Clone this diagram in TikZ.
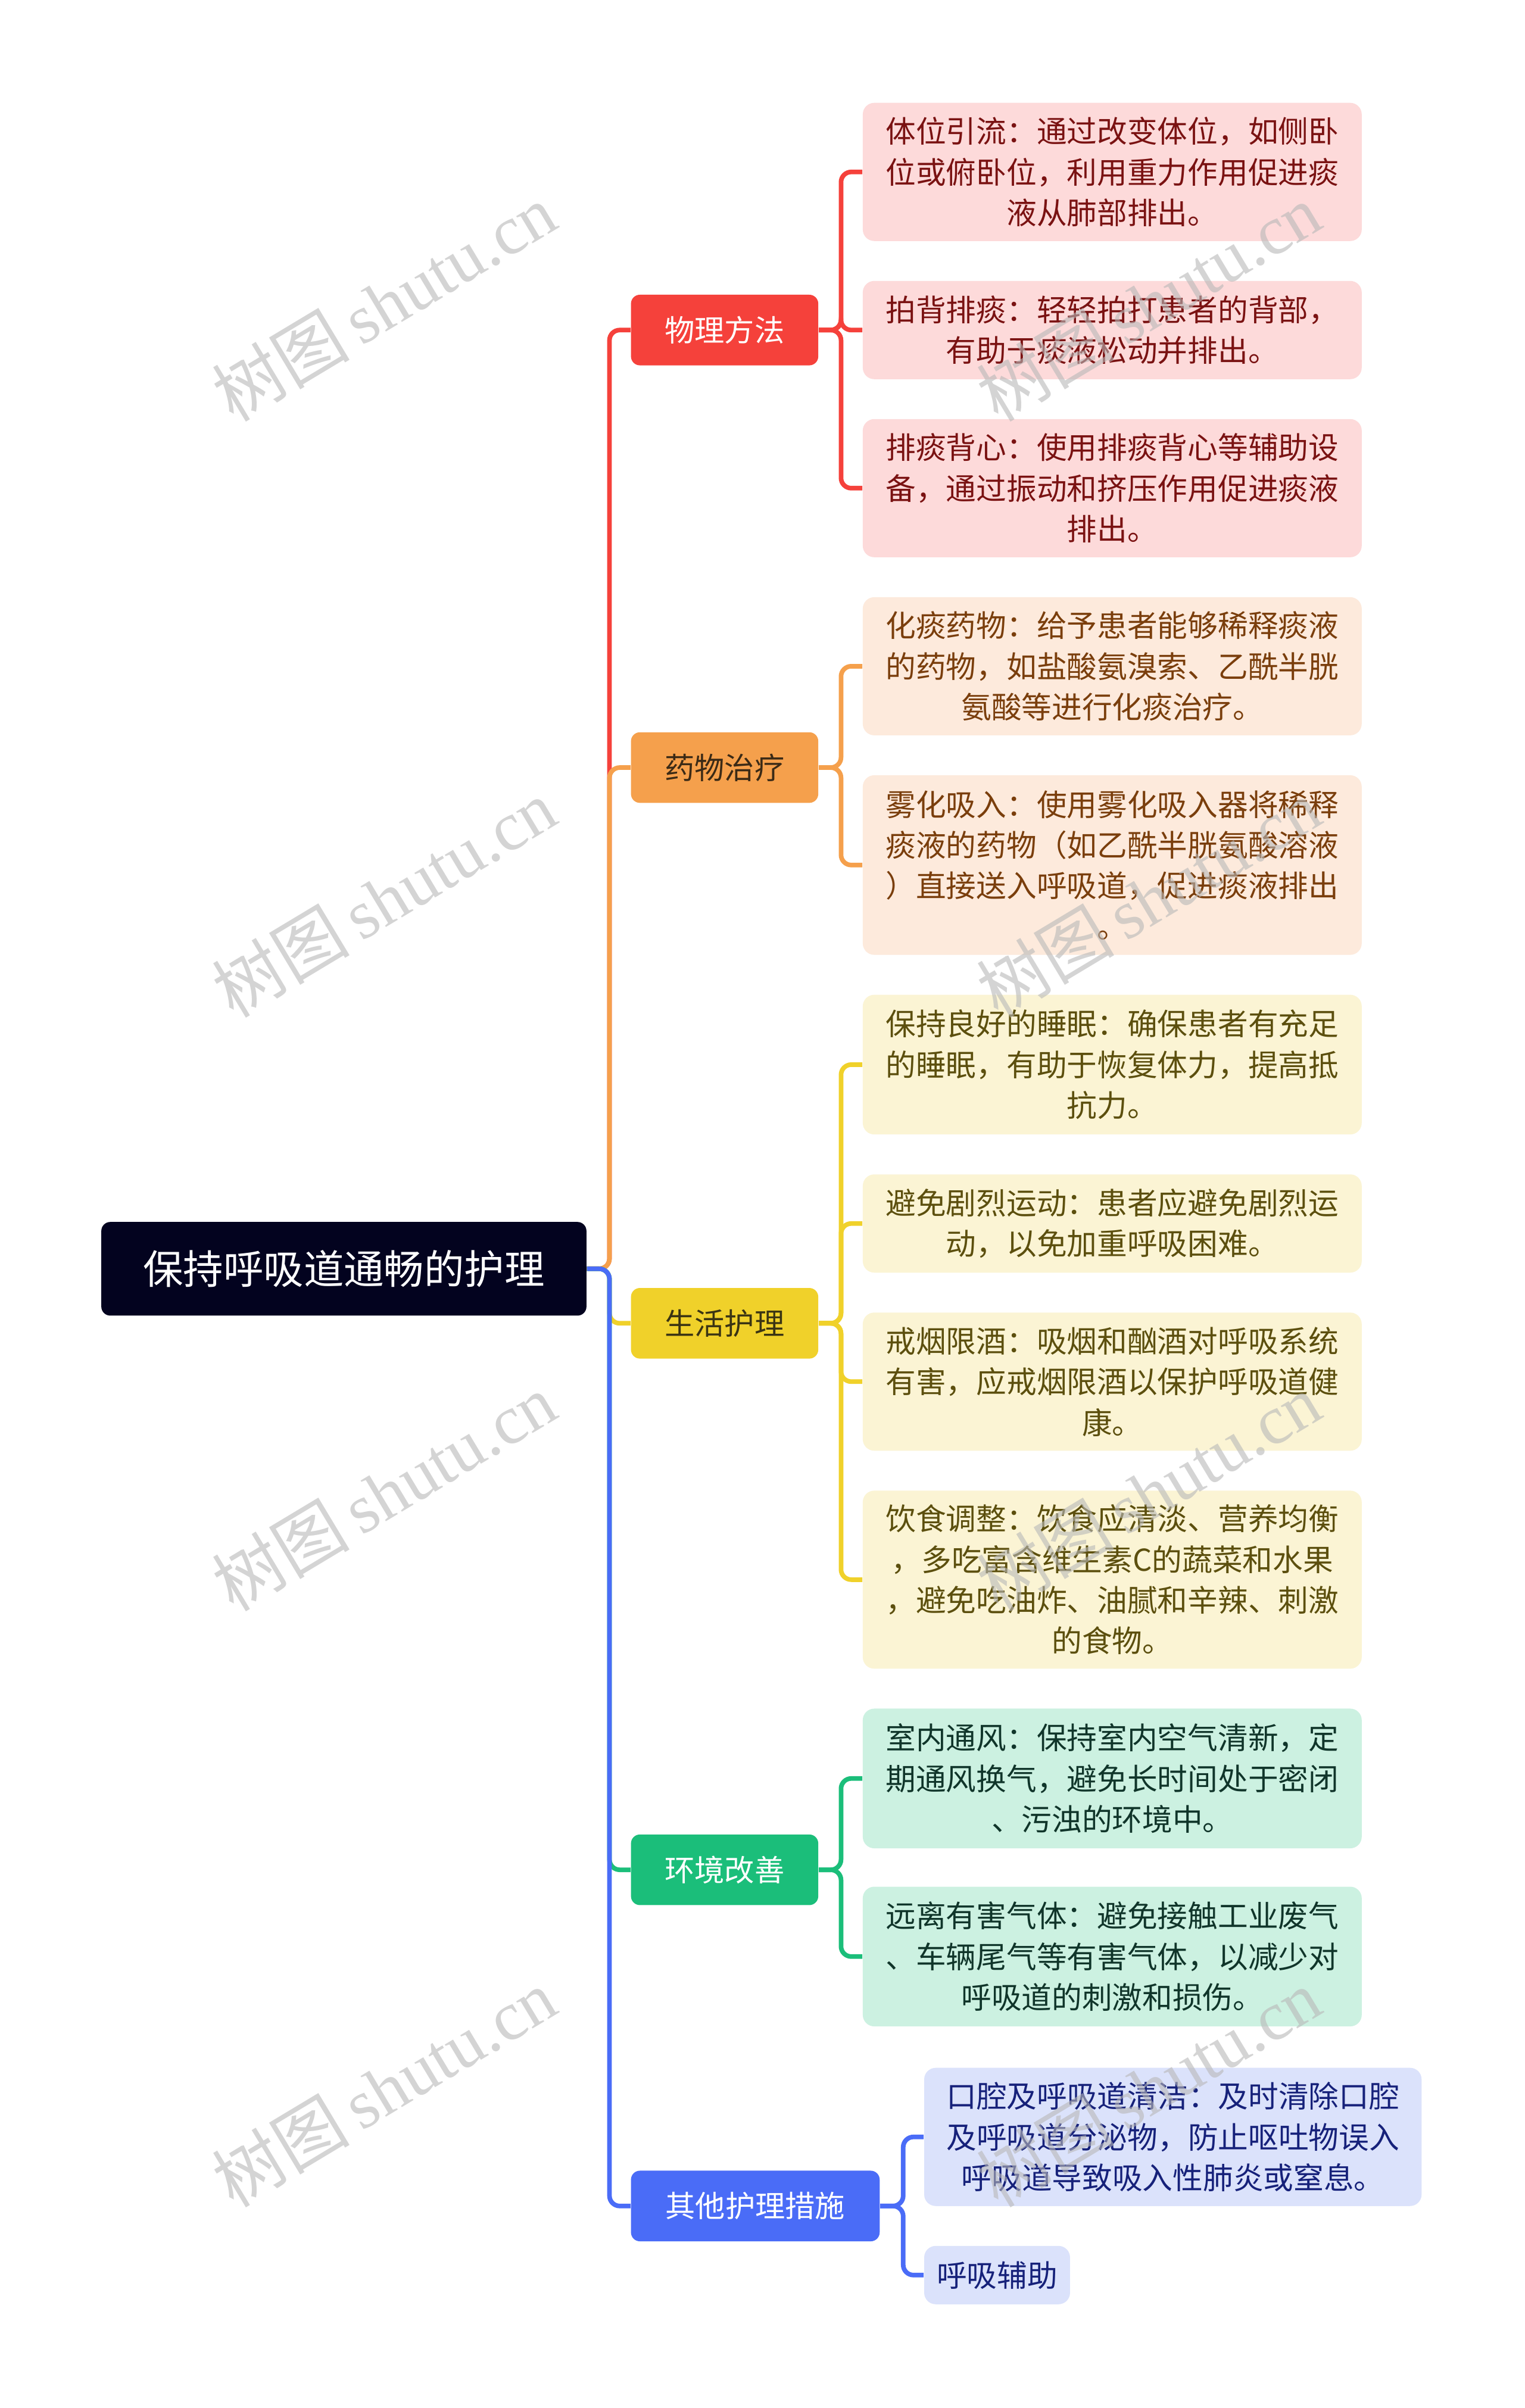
\documentclass[tikz,border=0pt]{standalone}
\usepackage{fontspec}
\setmainfont{Noto Sans CJK SC}
\newfontfamily\wmlatin{Liberation Serif}
\newfontfamily\wmcjk{Noto Sans CJK SC}
\definecolor{rootfill}{HTML}{03031F}
\definecolor{cRed}{HTML}{F5413B}
\definecolor{cRedL}{HTML}{FDDADA}
\definecolor{cRedT}{HTML}{7A1212}
\definecolor{cOra}{HTML}{F5A04C}
\definecolor{cOraL}{HTML}{FDEADC}
\definecolor{cOraT}{HTML}{7A3E0C}
\definecolor{cOraB}{HTML}{3B2A16}
\definecolor{cYel}{HTML}{F0D12A}
\definecolor{cYelL}{HTML}{FBF4D4}
\definecolor{cYelT}{HTML}{5C4F0E}
\definecolor{cYelB}{HTML}{3A3413}
\definecolor{cGrn}{HTML}{1BBE7A}
\definecolor{cGrnL}{HTML}{CCF1E1}
\definecolor{cGrnT}{HTML}{10352A}
\definecolor{cBlu}{HTML}{4A6CF7}
\definecolor{cBluL}{HTML}{DBE2FB}
\definecolor{cBluT}{HTML}{16217A}
\definecolor{wm}{HTML}{B8B8B8}
\begin{document}
\begin{tikzpicture}[x=0.6pt,y=-0.6pt,
  rootbox/.style={fill=rootfill, rounded corners=3.5pt, minimum width=189.6pt, minimum height=36.6pt, text=white, font=\fontsize{15.7pt}{19pt}\selectfont, inner sep=0pt},
  branchbox/.style={rounded corners=3.5pt, minimum height=27.6pt, inner sep=0pt, font=\fontsize{11.7pt}{14pt}\selectfont},
  leafbox/.style={rounded corners=4.5pt, align=center, inner sep=0pt, minimum width=195pt, font=\fontsize{11.8pt}{15.9pt}\selectfont},
  redleaf/.style={leafbox, fill=cRedL, text=cRedT},
  oraleaf/.style={leafbox, fill=cOraL, text=cOraT},
  yelleaf/.style={leafbox, fill=cYelL, text=cYelT},
  grnleaf/.style={leafbox, fill=cGrnL, text=cGrnT},
  bluleaf/.style={leafbox, fill=cBluL, text=cBluT},
  link/.style={line width=1.8pt, rounded corners=4pt},
  watermark/.style={rotate=31, text=wm, opacity=0.6, font=\fontsize{27pt}{30pt}\selectfont}
]
\useasboundingbox (0,0) rectangle (993,1568.6);
\fill[white] (0,0) rectangle (993,1568.6);

% root
\node[rootbox] (root) at (224,826.5) {保持呼吸道通畅的护理};
\coordinate (trunk) at (397,826.5);

% branches
\node[branchbox, fill=cRed, text=white, minimum width=73.2pt] (b1) at (472,215) {物理方法};
\node[branchbox, fill=cOra, text=cOraB, minimum width=73.2pt] (b2) at (472,500) {药物治疗};
\node[branchbox, fill=cYel, text=cYelB, minimum width=73.2pt] (b3) at (472,862) {生活护理};
\node[branchbox, fill=cGrn, text=white, minimum width=73.2pt] (b4) at (472,1218) {环境改善};
\node[branchbox, fill=cBlu, text=white, minimum width=97.2pt] (b5) at (492,1437) {其他护理措施};

% leaves
\node[redleaf, minimum height=54pt] (l1) at (724.5,112) {体位引流：通过改变体位，如侧卧\\位或俯卧位，利用重力作用促进痰\\液从肺部排出。};
\node[redleaf, minimum height=38.4pt] (l2) at (724.5,215) {拍背排痰：轻轻拍打患者的背部，\\有助于痰液松动并排出。};
\node[redleaf, minimum height=54pt] (l3) at (724.5,318) {排痰背心：使用排痰背心等辅助设\\备，通过振动和挤压作用促进痰液\\排出。};

\node[oraleaf, minimum height=54pt] (o1) at (724.5,434) {化痰药物：给予患者能够稀释痰液\\的药物，如盐酸氨溴索、乙酰半胱\\氨酸等进行化痰治疗。};
\node[oraleaf, minimum height=70.2pt] (o2) at (724.5,563.5) {雾化吸入：使用雾化吸入器将稀释\\痰液的药物（如乙酰半胱氨酸溶液\\）直接送入呼吸道，促进痰液排出\\。};

\node[yelleaf, minimum height=54.6pt] (y1) at (724.5,693.5) {保持良好的睡眠：确保患者有充足\\的睡眠，有助于恢复体力，提高抵\\抗力。};
\node[yelleaf, minimum height=38.4pt] (y2) at (724.5,797) {避免剧烈运动：患者应避免剧烈运\\动，以免加重呼吸困难。};
\node[yelleaf, minimum height=54pt] (y3) at (724.5,900) {戒烟限酒：吸烟和酗酒对呼吸系统\\有害，应戒烟限酒以保护呼吸道健\\康。};
\node[yelleaf, minimum height=69.6pt] (y4) at (724.5,1029) {饮食调整：饮食应清淡、营养均衡\\，多吃富含维生素C的蔬菜和水果\\，避免吃油炸、油腻和辛辣、刺激\\的食物。};

\node[grnleaf, minimum height=54.6pt] (g1) at (724.5,1158.5) {室内通风：保持室内空气清新，定\\期通风换气，避免长时间处于密闭\\、污浊的环境中。};
\node[grnleaf, minimum height=54.6pt] (g2) at (724.5,1274.5) {远离有害气体：避免接触工业废气\\、车辆尾气等有害气体，以减少对\\呼吸道的刺激和损伤。};

\node[bluleaf, minimum width=194.4pt, minimum height=54pt] (k1) at (764,1392) {口腔及呼吸道清洁：及时清除口腔\\及呼吸道分泌物，防止呕吐物误入\\呼吸道导致吸入性肺炎或窒息。};
\node[bluleaf, minimum width=57pt, minimum height=22.8pt] (k2) at (649.5,1482) {呼吸辅助};

% root to branches
\draw[link, cRed] (root.east) -- (trunk) |- (b1.west);
\draw[link, cOra] (root.east) -- (trunk) |- (b2.west);
\draw[link, cYel] (root.east) -- (trunk) |- (b3.west);
\draw[link, cGrn] (root.east) -- (trunk) |- (b4.west);
\draw[link, cBlu] (root.east) -- (trunk) |- (b5.west);

% branches to leaves
\foreach \l in {l1,l2,l3} \draw[link, cRed] (b1.east) -- ++(14.5,0) |- (\l.west);
\foreach \l in {o1,o2} \draw[link, cOra] (b2.east) -- ++(14.5,0) |- (\l.west);
\foreach \l in {y1,y2,y3,y4} \draw[link, cYel] (b3.east) -- ++(14.5,0) |- (\l.west);
\foreach \l in {g1,g2} \draw[link, cGrn] (b4.east) -- ++(14.5,0) |- (\l.west);
\foreach \l in {k1,k2} \draw[link, cBlu] (b5.east) -- ++(15,0) |- (\l.west);

% watermarks
\foreach \wy in {197,585,972,1360} {
  \node[watermark] (wl\wy) at (250,\wy) {\wmcjk 树图\,\wmlatin shutu.cn};
  \node[watermark] (wr\wy) at (748,\wy) {\wmcjk 树图\,\wmlatin shutu.cn};
}
\end{tikzpicture}
\end{document}
